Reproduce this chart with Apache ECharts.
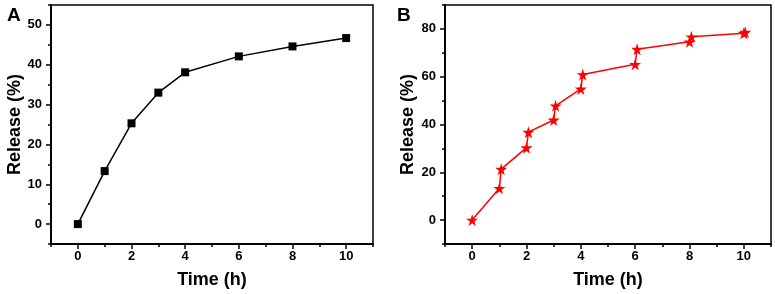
<!DOCTYPE html>
<html>
<head>
<meta charset="utf-8">
<script src="https://cdn.jsdelivr.net/npm/echarts@6/dist/echarts.min.js"></script>
<style>
  html, body { margin: 0; padding: 0; background: #fff; }
  #chart { width: 775px; height: 294px; }
</style>
</head>
<body>
<div id="chart"></div>
<script>
// panel A
const timeA = [0, 1, 2, 3, 4, 6, 8, 10]
const releaseA = [0, 13.3, 25.3, 33, 38.1, 42.1, 44.6, 46.7]
// panel B (paired readings at each time point)
const timeB = [0, 1, 1.07, 2, 2.07, 3, 3.07, 4, 4.07, 6, 6.07, 8, 8.07, 10, 10.05]
const releaseB = [0, 13.3, 21.3, 30.3, 36.8, 41.9, 47.8, 54.9, 60.9, 65.2, 71.5, 74.6, 76.7, 78.2, 78.6]

const xMajor = [0, 2, 4, 6, 8, 10]
const xMinor = [-1, 1, 3, 5, 7, 9, 11]
const yMajorA = [0, 10, 20, 30, 40, 50]
const yMinorA = [-5, 5, 15, 25, 35, 45, 55]
const yMajorB = [0, 20, 40, 60, 80]
const yMinorB = [-10, 10, 30, 50, 70, 90]

const FONT = "Liberation Sans, Arial, sans-serif"
const STAR = "path://M50,0 L61,35 L98,35 L68,57 L79,91 L50,70 L21,91 L32,57 L2,35 L39,35 Z"

const chart = echarts.init(document.getElementById("chart"))

const lineStyle = { color: "#000", width: 1.5 }

function xAxes(grid) {
  return [
    {
      type: "value", gridIndex: grid, min: -1, max: 11, position: "bottom",
      name: "Time (h)", nameLocation: "middle", nameGap: 27,
      nameTextStyle: { fontFamily: FONT, fontWeight: "bold", fontSize: 18, color: "#000" },
      axisLine: { show: true, onZero: false, lineStyle },
      axisTick: { show: true, inside: false, length: 5, customValues: xMajor, lineStyle },
      axisLabel: { customValues: xMajor, margin: 6, fontFamily: FONT, fontWeight: "bold", fontSize: 13, color: "#000" },
      splitLine: { show: false }
    },
    {
      // minor ticks
      type: "value", gridIndex: grid, min: -1, max: 11, position: "bottom",
      axisLine: { show: true, onZero: false, lineStyle },
      axisTick: { show: true, inside: false, length: 3, customValues: xMinor, lineStyle },
      axisLabel: { show: false },
      splitLine: { show: false }
    }
  ]
}

function yAxes(grid, min, max, major, minor, gap) {
  return [
    {
      type: "value", gridIndex: grid, min, max, position: "left",
      name: "Release (%)", nameLocation: "middle", nameGap: gap,
      nameTextStyle: { fontFamily: FONT, fontWeight: "bold", fontSize: 18, color: "#000" },
      axisLine: { show: true, onZero: false, lineStyle },
      axisTick: { show: true, inside: false, length: 5, customValues: major, lineStyle },
      axisLabel: { customValues: major, margin: 9, fontFamily: FONT, fontWeight: "bold", fontSize: 13, color: "#000" },
      splitLine: { show: false }
    },
    {
      // minor ticks
      type: "value", gridIndex: grid, min, max, position: "left",
      axisLine: { show: true, onZero: false, lineStyle },
      axisTick: { show: true, inside: false, length: 3, customValues: minor, lineStyle },
      axisLabel: { show: false },
      splitLine: { show: false }
    }
  ]
}

chart.setOption({
  animation: false,
  title: [
    { text: "A", left: 2, top: 1, textStyle: { fontFamily: FONT, fontWeight: "bold", fontSize: 19, color: "#000" } },
    { text: "B", left: 392, top: 1, textStyle: { fontFamily: FONT, fontWeight: "bold", fontSize: 19, color: "#000" } }
  ],
  grid: [
    { left: 51, top: 5, width: 322, height: 242, show: true, borderColor: "#000", borderWidth: 1.5 },
    { left: 445, top: 5, width: 326, height: 243, show: true, borderColor: "#000", borderWidth: 1.5 }
  ],
  xAxis: [...xAxes(0), ...xAxes(1)],
  yAxis: [...yAxes(0, -5, 55, yMajorA, yMinorA, 27), ...yAxes(1, -10, 90, yMajorB, yMinorB, 28)],
  series: [
    {
      type: "line", xAxisIndex: 0, yAxisIndex: 0,
      data: timeA.map((t, i) => [t, releaseA[i]]),
      symbol: "rect", symbolSize: 8,
      itemStyle: { color: "#000" },
      lineStyle: { color: "#000", width: 1.5 }
    },
    {
      type: "line", xAxisIndex: 2, yAxisIndex: 2,
      data: timeB.map((t, i) => [t, releaseB[i]]),
      symbol: STAR, symbolSize: 12,
      itemStyle: { color: "#ff0000" },
      lineStyle: { color: "#ff0000", width: 1.5 }
    }
  ]
})
</script>
</body>
</html>
